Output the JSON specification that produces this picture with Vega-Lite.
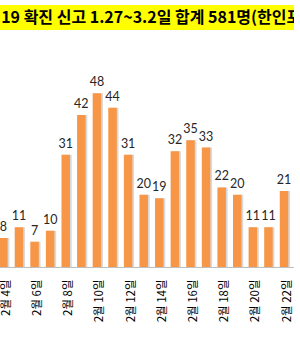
{
  "$schema": "https://vega.github.io/schema/vega-lite/v6.json",
  "padding": {"top": 5, "left": -2.3, "right": -7.5, "bottom": 0},
  "background": "white",
  "spacing": 0,
  "config": {"view": {"stroke": null}, "concat": {"spacing": 0}},
  "datasets": {
    "title": [{"t": "19 확진 신고 1.27~3.2일 합계 581명(한인포"}],
    "cases": [
      {"day": 4, "count": 8}, {"day": 5, "count": 11}, {"day": 6, "count": 7},
      {"day": 7, "count": 10}, {"day": 8, "count": 31}, {"day": 9, "count": 42},
      {"day": 10, "count": 48}, {"day": 11, "count": 44}, {"day": 12, "count": 31},
      {"day": 13, "count": 20}, {"day": 14, "count": 19}, {"day": 15, "count": 32},
      {"day": 16, "count": 35}, {"day": 17, "count": 33}, {"day": 18, "count": 22},
      {"day": 19, "count": 20}, {"day": 20, "count": 11}, {"day": 21, "count": 11},
      {"day": 22, "count": 21}
    ]
  },
  "vconcat": [
    {
      "width": 300,
      "height": 25,
      "view": {"fill": "#FFFF00", "stroke": null},
      "data": {"name": "title"},
      "mark": {"type": "text", "font": "Noto Sans CJK KR", "fontWeight": "bold", "fontSize": 16, "align": "center", "dx": 3.5, "color": "#000000"},
      "encoding": {"text": {"field": "t"}}
    },
    {
      "width": 300,
      "height": 237,
      "data": {"name": "cases"},
      "encoding": {
        "x": {
          "field": "day", "type": "quantitative",
          "scale": {"domain": [3.957, 22.555], "nice": false, "zero": false},
          "axis": {
            "title": null, "values": [4, 6, 8, 10, 12, 14, 16, 18, 20, 22],
            "labelExpr": "'2월 ' + datum.value + '일'",
            "labelAngle": -90, "labelFont": "Noto Sans CJK KR", "labelFontSize": 11.5,
            "labelColor": "#000000", "labelPadding": 12, "labelOffset": 3,
            "labelFlush": false, "labelOverlap": false, "labelBound": false,
            "ticks": false, "grid": false, "domainColor": "#BFBFBF", "domainWidth": 1
          }
        },
        "y": {"field": "count", "type": "quantitative", "scale": {"domain": [0, 65.5], "nice": false}, "axis": null}
      },
      "layer": [
        {"mark": {"type": "bar", "size": 9, "color": "#D9D9D9", "xOffset": 1.5, "clip": true}},
        {"mark": {"type": "bar", "size": 8.5, "color": "#F79646", "clip": true}},
        {
          "mark": {"type": "text", "baseline": "bottom", "dy": -4, "font": "Lato", "fontSize": 12.5, "color": "#262626", "clip": true},
          "encoding": {"text": {"field": "count"}}
        }
      ]
    }
  ]
}
